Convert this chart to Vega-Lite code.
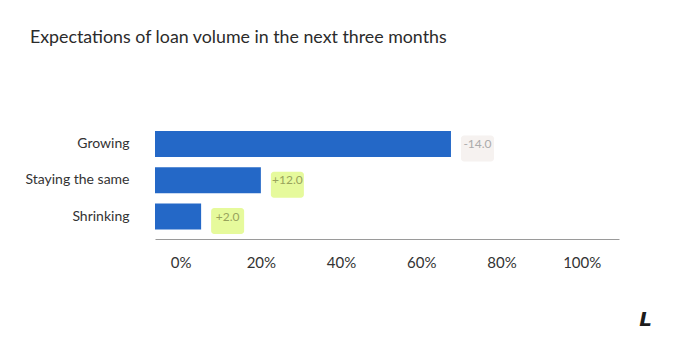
{
  "$schema": "https://vega.github.io/schema/vega-lite/v6.json",
  "autosize": "none",
  "width": 464,
  "height": 117.5,
  "padding": {"left": 155, "top": 121.5, "right": 63, "bottom": 118},
  "background": "white",
  "config": {
    "font": "Lato",
    "view": {"stroke": null},
    "locale": {"number": {"decimal": ".", "thousands": ",", "grouping": [3], "currency": ["$", ""], "minus": "-"}}
  },
  "title": {
    "text": "Expectations of loan volume in the next three months",
    "anchor": "start",
    "frame": "group",
    "dx": -125,
    "offset": 75,
    "fontSize": 17.8,
    "fontWeight": "normal",
    "color": "#2b2b2b",
    "font": "Lato"
  },
  "data": {
    "values": [
      {"category": "Growing", "share": 67.4, "change": -14.0, "direction": "down"},
      {"category": "Staying the same", "share": 20.0, "change": 12.0, "direction": "up"},
      {"category": "Shrinking", "share": 5.1, "change": 2.0, "direction": "up"}
    ]
  },
  "encoding": {
    "y": {
      "field": "category",
      "type": "nominal",
      "sort": null,
      "scale": {"paddingInner": 0.28, "paddingOuter": 0.26},
      "axis": {
        "title": null,
        "domain": false,
        "ticks": false,
        "labelPadding": 26,
        "labelFontSize": 14,
        "labelColor": "#333333",
        "labelFont": "Lato"
      }
    }
  },
  "layer": [
    {
      "mark": {"type": "bar", "color": "#2468c7"},
      "encoding": {
        "x": {
          "field": "share",
          "type": "quantitative",
          "scale": {"domain": [-6.4, 109.3], "nice": false, "zero": false},
          "axis": {
            "values": [0, 20, 40, 60, 80, 100],
            "labelExpr": "datum.value + '%'",
            "grid": false,
            "ticks": false,
            "domainColor": "#9a9a9a",
            "domainWidth": 1.2,
            "labelFontSize": 15,
            "labelColor": "#333333",
            "labelFont": "Lato",
            "labelPadding": 16,
            "title": "L",
            "titleFont": "DejaVu Sans",
            "titleFontStyle": "italic",
            "titleFontWeight": "bold",
            "titleFontSize": 20,
            "titleColor": "#1c1c1c",
            "titleX": 490,
            "titleY": 86,
            "titleAlign": "center",
            "titleBaseline": "alphabetic"
          }
        },
        "x2": {"datum": -6.4}
      }
    },
    {
      "mark": {"type": "rect", "xOffset": 10, "x2Offset": 43, "yOffset": 4.5, "y2Offset": -4.5, "cornerRadius": 3},
      "encoding": {
        "x": {"field": "share", "type": "quantitative"},
        "x2": {"field": "share"},
        "fill": {
          "field": "direction",
          "type": "nominal",
          "scale": {"domain": ["down", "up"], "range": ["#f6f2f0", "#e6fa9c"]},
          "legend": null
        }
      }
    },
    {
      "mark": {"type": "text", "dx": 26.5, "align": "center", "baseline": "middle", "fontSize": 12, "font": "Lato"},
      "encoding": {
        "x": {"field": "share", "type": "quantitative"},
        "text": {"field": "change", "type": "quantitative", "format": "+.1f"},
        "color": {
          "field": "direction",
          "type": "nominal",
          "scale": {"domain": ["down", "up"], "range": ["#ababab", "#98a35c"]},
          "legend": null
        }
      }
    }
  ]
}
